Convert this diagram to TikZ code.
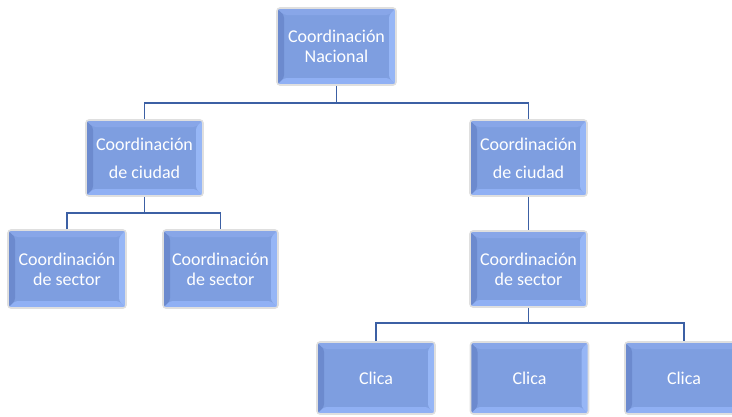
\documentclass[tikz,border=0pt]{standalone}
\usepackage{fontspec}
\setmainfont{Carlito}
\usetikzlibrary{calc}
\definecolor{face}{RGB}{126,158,224}
\definecolor{bevL}{RGB}{108,138,206}
\definecolor{bevT}{RGB}{136,166,232}
\definecolor{bevR}{RGB}{150,182,246}
\definecolor{bevB}{RGB}{144,176,244}
\definecolor{conn}{RGB}{60,96,164}
\tikzset{
  bevbox/.style={rectangle, rounded corners=3pt, fill=face, draw=gray!25, line width=1.6pt,
    minimum width=117pt, minimum height=76pt, inner sep=0pt, text=white, align=center,
    font=\fontsize{18}{20}\selectfont,
    path picture={
      \fill[bevL] (path picture bounding box.south west) -- (path picture bounding box.north west)
        -- ($(path picture bounding box.north west)+(7pt,-7pt)$) -- ($(path picture bounding box.south west)+(7pt,7pt)$) -- cycle;
      \fill[bevT] (path picture bounding box.north west) -- (path picture bounding box.north east)
        -- ($(path picture bounding box.north east)+(-7pt,-7pt)$) -- ($(path picture bounding box.north west)+(7pt,-7pt)$) -- cycle;
      \fill[bevR] (path picture bounding box.north east) -- (path picture bounding box.south east)
        -- ($(path picture bounding box.south east)+(-7pt,7pt)$) -- ($(path picture bounding box.north east)+(-7pt,-7pt)$) -- cycle;
      \fill[bevB] (path picture bounding box.south west) -- (path picture bounding box.south east)
        -- ($(path picture bounding box.south east)+(-7pt,7pt)$) -- ($(path picture bounding box.south west)+(7pt,7pt)$) -- cycle;
    }},
  conline/.style={draw=conn, line width=1.8pt}
}
\begin{document}
\begin{tikzpicture}[x=1pt,y=-1pt]
\useasboundingbox (0,0) rectangle (732,416);
\clip (0,0) rectangle (732,416);
\node[bevbox, minimum width=119pt, minimum height=77pt] (top) at (336.5,46.5) {Coordinación\\Nacional};
\node[bevbox] (cityL) at (144.5,158) {Coordinación\\[8pt]de ciudad};
\node[bevbox] (cityR) at (528.5,158) {Coordinación\\[8pt]de ciudad};
\node[bevbox, minimum width=118pt, minimum height=78pt] (secL1) at (67,269) {Coordinación\\de sector};
\node[bevbox, minimum width=115pt, minimum height=78pt] (secL2) at (220.5,269) {Coordinación\\de sector};
\node[bevbox] (secR) at (528.5,269) {Coordinación\\de sector};
\node[bevbox, minimum width=118pt, minimum height=72pt] (c1) at (376,378) {Clica};
\node[bevbox, minimum width=118pt, minimum height=72pt] (c2) at (529.5,378) {Clica};
\node[bevbox, minimum width=118pt, minimum height=72pt] (c3) at (684,378) {Clica};
\coordinate (j1) at (336.5,103);
\coordinate (j2) at (144.5,213);
\coordinate (j3) at (528.5,323);
\draw[conline] (top.south) -- (j1);
\draw[conline] (cityL.north) |- (j1) -| (cityR.north);
\draw[conline] (cityL.south) -- (j2);
\draw[conline] (secL1.north) |- (j2) -| (secL2.north);
\draw[conline] (cityR.south) -- (secR.north);
\draw[conline] (secR.south) -- (j3);
\draw[conline] (c1.north) |- (j3) -| (c3.north);
\end{tikzpicture}
\end{document}
